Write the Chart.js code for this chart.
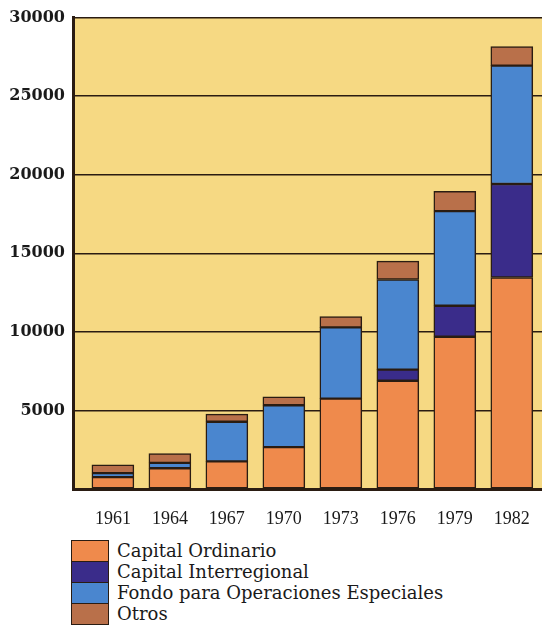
<!DOCTYPE html>
<html>
<head>
<meta charset="utf-8">
<script src="https://cdn.jsdelivr.net/npm/chart.js@4.4.1/dist/chart.umd.min.js"></script>
<style>
  html, body { margin: 0; padding: 0; background: #fff; overflow: hidden; }
  #wrap { position: absolute; left: 0; top: 0; width: 542px; height: 530px; }
  #legend { position: absolute; left: 71px; top: 540px; font-family: "DejaVu Serif", serif; font-size: 18px; color: #1a1a1a; }
  .row { display: flex; align-items: center; height: 21px; }
  .sw { width: 36px; height: 20px; border: 1.5px solid #2a1c12; border-bottom-width: 0; margin-right: 8px; }
  .row:last-child .sw { border-bottom-width: 1.5px; }
  .lbl { line-height: 21px; }
</style>
</head>
<body>
<div id="wrap"><canvas id="chart"></canvas></div>
<div id="legend"></div>
<script>
const years = ['1961', '1964', '1967', '1970', '1973', '1976', '1979', '1982']
const seriesNames = ['Capital Ordinario', 'Capital Interregional', 'Fondo para Operaciones Especiales', 'Otros']
const ordinario = [760, 1320, 1760, 2660, 5750, 6890, 9690, 13460]
const interregional = [0, 0, 0, 0, 0, 710, 1970, 5950]
const especiales = [250, 340, 2520, 2670, 4540, 5730, 6020, 7530]
const otros = [530, 590, 490, 540, 680, 1170, 1260, 1210]
const colors = ['#ef8a4c', '#3a2c8a', '#4a86cf', '#b9704a']
const yTicks = [0, 5000, 10000, 15000, 20000, 25000, 30000]

const values = [ordinario, interregional, especiales, otros]
const edge = '#2a1c12'

const datasets = seriesNames.map((name, s) => ({
  label: name,
  data: values[s].map((v, i) => ({ x: i, y: v })),
  backgroundColor: colors[s],
  borderColor: edge,
  borderWidth: 1.5,
  borderSkipped: false,
  barThickness: 42
}))

const plotBg = {
  id: 'plotBg',
  beforeDraw(chart) {
    const { ctx, chartArea: a } = chart
    ctx.save()
    ctx.fillStyle = '#f6d983'
    ctx.fillRect(a.left, a.top, a.right - a.left, a.bottom - a.top)
    ctx.restore()
  }
}

new Chart(document.getElementById('chart'), {
  type: 'bar',
  data: { datasets },
  plugins: [plotBg],
  options: {
    responsive: true,
    maintainAspectRatio: false,
    animation: false,
    layout: { padding: { top: 14, left: 0, right: 0, bottom: 0 } },
    plugins: { legend: { display: false }, tooltip: { enabled: false } },
    scales: {
      x: {
        type: 'linear',
        stacked: true,
        offset: false,
        min: -0.7,
        max: 7.53,
        afterBuildTicks: s => { s.ticks = years.map((y, i) => ({ value: i })) },
        afterFit: s => { s.height = 41 },
        ticks: {
          callback: v => years[v],
          font: { family: 'Liberation Serif', size: 18 },
          color: '#1a1a1a',
          padding: 11,
          maxRotation: 0,
          autoSkip: false
        },
        grid: { display: false, offset: false },
        border: { display: true, color: edge, width: 3 }
      },
      y: {
        stacked: true,
        min: 0,
        max: 30000,
        afterBuildTicks: s => { s.ticks = yTicks.map(v => ({ value: v })) },
        afterFit: s => { s.width = 73 },
        ticks: {
          callback: v => v === 0 ? '' : String(v),
          font: { family: 'DejaVu Serif', size: 16, weight: 'bold' },
          color: '#1a1a1a',
          padding: 8
        },
        grid: { color: edge, lineWidth: 1.5, drawTicks: false },
        border: { display: true, color: edge, width: 3 }
      }
    }
  }
})

const legend = document.getElementById('legend')
seriesNames.forEach((name, s) => {
  const row = document.createElement('div')
  row.className = 'row'
  row.innerHTML = `<div class="sw" style="background:${colors[s]}"></div><span class="lbl">${name}</span>`
  legend.appendChild(row)
})
</script>
</body>
</html>
